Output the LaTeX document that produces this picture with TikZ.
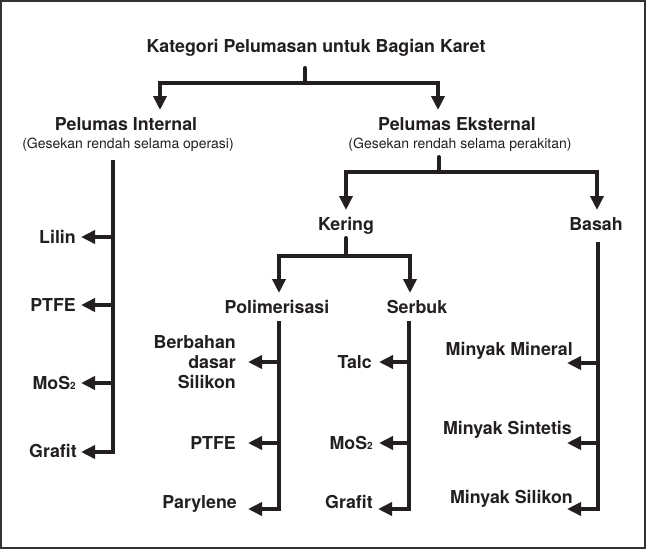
\documentclass[tikz,border=0pt]{standalone}
\usepackage{fontspec}
\setmainfont{TeX Gyre Heros}
\usetikzlibrary{arrows.meta}
\definecolor{ink}{RGB}{35,31,32}
\newcommand{\subtwo}{\raisebox{-0.3pt}{\fontsize{10}{10}\selectfont 2}}
\begin{document}
\begin{tikzpicture}[x=1pt,y=-1pt,
  ln/.style={line width=4pt, draw=ink},
  arr/.style={ln, -{Triangle[length=14pt,width=13pt]}},
  hd/.style={font=\fontsize{17.8}{20}\selectfont\bfseries, inner sep=0pt, text=ink, anchor=base},
  subt/.style={font=\fontsize{14}{16}\selectfont, inner sep=0pt, text=ink, anchor=base},
  lbl/.style={font=\fontsize{17.8}{20}\selectfont\bfseries, inner sep=0pt, text=ink, anchor=base east, align=right},
]
\useasboundingbox (0,0) rectangle (646,549);
\draw[line width=2pt, draw=black!80] (1,1) rectangle (645,548);

% headings
\node[hd] (T) at (316,52) {Kategori Pelumasan untuk Bagian Karet};
\node[hd] (PI) at (126,130) {Pelumas Internal};
\node[subt] (PIs) at (128,148) {(Gesekan rendah selama operasi)};
\node[hd] (PE) at (457,130) {Pelumas Eksternal};
\node[subt] (PEs) at (460,148) {(Gesekan rendah selama perakitan)};
\node[hd] (K) at (346,230) {Kering};
\node[hd] (B) at (596,230) {Basah};
\node[hd] (P) at (277,313) {Polimerisasi};
\node[hd] (S) at (417,313) {Serbuk};

% leaf labels
\node[lbl] (L1) at (76,243) {Lilin};
\node[lbl] (L2) at (76,311) {PTFE};
\node[lbl] (L3) at (76,389) {MoS\subtwo};
\node[lbl] (L4) at (77,457) {Grafit};
\node[lbl, anchor=east] (P1) at (236,362) {Berbahan\\dasar\\Silikon};
\node[lbl] (P2) at (236,449) {PTFE};
\node[lbl] (P3) at (237,508) {Parylene};
\node[lbl] (S1) at (372,368) {Talc};
\node[lbl] (S2) at (373,449) {MoS\subtwo};
\node[lbl] (S3) at (373,508) {Grafit};
\node[lbl] (B1) at (573,355) {Minyak Mineral};
\node[lbl] (B2) at (572,434) {Minyak Sintetis};
\node[lbl] (B3) at (573,503) {Minyak Silikon};

% top split
\coordinate (t1) at (305,68);
\coordinate (t2) at (305,83);
\coordinate (aPI) at (160,110);
\coordinate (aPE) at (438,110);
\draw[ln, line cap=round] (t1) -- (t2);
\draw[arr] (t2) -| (aPI);
\draw[arr] (t2) -| (aPE);

% external split
\coordinate (e1) at (439,157);
\coordinate (e2) at (439,172);
\coordinate (aK) at (346,210);
\coordinate (aB) at (597,210);
\draw[ln, line cap=round] (e1) -- (e2);
\draw[arr] (e2) -| (aK);
\draw[arr] (e2) -| (aB);

% kering split
\coordinate (k1) at (346,238);
\coordinate (k2) at (346,256);
\coordinate (aP) at (279,293);
\coordinate (aS) at (410,293);
\draw[ln, line cap=round] (k1) -- (k2);
\draw[arr] (k2) -| (aP);
\draw[arr] (k2) -| (aS);

% internal trunk
\coordinate (it0) at (113,160);
\coordinate (it1) at (113,237);
\coordinate (it2) at (113,305);
\coordinate (it3) at (113,383);
\coordinate (it4) at (113,452);
\coordinate (tl1) at (81,237);
\coordinate (tl2) at (81,305);
\coordinate (tl3) at (81,383);
\coordinate (tl4) at (81,452);
\draw[arr] (it0) -- (it4) -- (tl4);
\draw[arr] (it1) -- (tl1);
\draw[arr] (it2) -- (tl2);
\draw[arr] (it3) -- (tl3);

% polimerisasi trunk
\coordinate (pt0) at (279,321);
\coordinate (pt1) at (279,362);
\coordinate (pt2) at (279,443);
\coordinate (pt3) at (279,509);
\coordinate (tp1) at (248,362);
\coordinate (tp2) at (248,443);
\coordinate (tp3) at (248,509);
\draw[arr] (pt0) -- (pt3) -- (tp3);
\draw[arr] (pt1) -- (tp1);
\draw[arr] (pt2) -- (tp2);

% serbuk trunk
\coordinate (st0) at (409,321);
\coordinate (st1) at (409,362);
\coordinate (st2) at (409,443);
\coordinate (st3) at (409,509);
\coordinate (ts1) at (379,362);
\coordinate (ts2) at (379,443);
\coordinate (ts3) at (378,509);
\draw[arr] (st0) -- (st3) -- (ts3);
\draw[arr] (st1) -- (ts1);
\draw[arr] (st2) -- (ts2);

% basah trunk
\coordinate (bt0) at (598,242);
\coordinate (bt1) at (598,363);
\coordinate (bt2) at (598,443);
\coordinate (bt3) at (598,509);
\coordinate (tb1) at (567,363);
\coordinate (tb2) at (567,443);
\coordinate (tb3) at (567,509);
\draw[arr] (bt0) -- (bt3) -- (tb3);
\draw[arr] (bt1) -- (tb1);
\draw[arr] (bt2) -- (tb2);
\end{tikzpicture}
\end{document}
